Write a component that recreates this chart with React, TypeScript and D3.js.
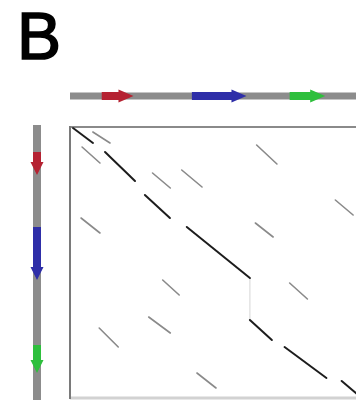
import React from 'react';
import * as d3 from 'd3';

// ---- data (kb along each sequence) ----
const panelLabel = 'B';
const seqXDomain = [0, 23];
const seqYDomain = [0, 27];

const geneColors = ['#b52330', '#2f2fa8', '#2fbf3c'];
const genesX: [number, number][] = [[2.5, 5.0], [9.6, 13.9], [17.3, 20.1]];
const genesY: [number, number][] = [[2.5, 4.8], [10.0, 15.3], [21.8, 24.6]];

// main diagonal matches [x1, y1, x2, y2]
const mainMatches: [number, number, number, number][] = [
  [0.24, 0.1, 1.81, 1.6],
  [2.76, 2.5, 5.12, 5.4],
  [5.9, 6.8, 7.87, 9.1],
  [9.2, 10.0, 14.17, 15.1],
  [14.17, 19.3, 15.9, 21.3],
  [16.9, 22.0, 20.2, 25.1],
  [21.4, 25.4, 22.7, 26.8],
];

// insertion gap in sequence Y
const gapLinks: [number, number, number, number][] = [[14.17, 15.1, 14.17, 19.3]];

// weaker off-diagonal repeat matches [x1, y1, x2, y2]
const repeatMatches: [number, number, number, number][] = [
  [1.8, 0.5, 3.15, 1.6],
  [0.95, 2.0, 2.36, 3.6],
  [6.5, 4.6, 7.9, 6.1],
  [8.8, 4.3, 10.4, 6.0],
  [14.7, 1.8, 16.3, 3.7],
  [20.9, 7.3, 22.3, 8.8],
  [14.6, 9.6, 16.0, 11.0],
  [0.87, 9.1, 2.36, 10.6],
  [7.3, 15.3, 8.6, 16.8],
  [17.3, 15.6, 18.7, 17.2],
  [2.3, 20.1, 3.8, 22.0],
  [6.2, 19.0, 7.9, 20.6],
  [10.0, 24.6, 11.5, 26.1],
];

const W = 356;
const H = 406;

function hArrow(x0: number, x1: number, cy: number, bodyH: number, headH: number, headL: number) {
  const p = d3.path();
  const xh = Math.max(x0, x1 - headL);
  p.moveTo(x0, cy - bodyH / 2);
  p.lineTo(xh, cy - bodyH / 2);
  p.lineTo(xh, cy - headH / 2);
  p.lineTo(x1, cy);
  p.lineTo(xh, cy + headH / 2);
  p.lineTo(xh, cy + bodyH / 2);
  p.lineTo(x0, cy + bodyH / 2);
  p.closePath();
  return p.toString();
}

function vArrow(y0: number, y1: number, cx: number, bodyW: number, headW: number, headL: number) {
  const p = d3.path();
  const yh = Math.max(y0, y1 - headL);
  p.moveTo(cx - bodyW / 2, y0);
  p.lineTo(cx - bodyW / 2, yh);
  p.lineTo(cx - headW / 2, yh);
  p.lineTo(cx, y1);
  p.lineTo(cx + headW / 2, yh);
  p.lineTo(cx + bodyW / 2, yh);
  p.lineTo(cx + bodyW / 2, y0);
  p.closePath();
  return p.toString();
}

export default function App() {
  const x = d3.scaleLinear().domain(seqXDomain).range([70, 362]);
  const y = d3.scaleLinear().domain(seqYDomain).range([127, 397]);

  const topBarY = 96;
  const leftBarX = 37;

  return (
    <svg
      width={W}
      height={H}
      style={{ position: 'absolute', left: 0, top: 0, background: '#fff' }}
    >
      <defs>
        <filter id="soft" x="-20%" y="-20%" width="140%" height="140%">
          <feGaussianBlur stdDeviation="0.7" />
        </filter>
      </defs>
      <text
        x={17}
        y={59}
        fontFamily="'Liberation Sans', Arial, sans-serif"
        fontSize={66}
        fill="#000"
        stroke="#000"
        strokeWidth={1.6}
        filter="url(#soft)"
      >
        {panelLabel}
      </text>

      {/* top sequence bar */}
      <g filter="url(#soft)">
        <rect x={x(0)} y={topBarY - 3.5} width={x(seqXDomain[1]) - x(0)} height={7} fill="#8c8c8c" />
        {genesX.map((g, i) => (
          <path key={i} d={hArrow(x(g[0]), x(g[1]), topBarY, 8, 13, 15)} fill={geneColors[i]} />
        ))}
      </g>

      {/* left sequence bar */}
      <g filter="url(#soft)">
        <rect x={leftBarX - 4} y={y(0) - 2} width={8} height={y(seqYDomain[1]) - y(0) + 5} fill="#8c8c8c" />
        {genesY.map((g, i) => (
          <path key={i} d={vArrow(y(g[0]), y(g[1]), leftBarX, 8, 13, 13)} fill={geneColors[i]} />
        ))}
      </g>

      {/* frame */}
      <line x1={x(0)} x2={W} y1={127} y2={127} stroke="#8a8a8a" strokeWidth={2} />
      <line x1={x(0)} x2={W} y1={398} y2={398} stroke="#d2d2d2" strokeWidth={3} />
      <line x1={x(0)} x2={x(0)} y1={126} y2={399} stroke="#7a7a7a" strokeWidth={2} />

      {/* matches */}
      <g filter="url(#soft)" strokeLinecap="round">
        {gapLinks.map((s, i) => (
          <line key={'g' + i} x1={x(s[0])} y1={y(s[1])} x2={x(s[2])} y2={y(s[3])} stroke="#dcdcdc" strokeWidth={1.2} />
        ))}
        {repeatMatches.map((s, i) => (
          <line key={'r' + i} x1={x(s[0])} y1={y(s[1])} x2={x(s[2])} y2={y(s[3])} stroke="#8a8a8a" strokeWidth={1.6} />
        ))}
        {mainMatches.map((s, i) => (
          <line key={'m' + i} x1={x(s[0])} y1={y(s[1])} x2={x(s[2])} y2={y(s[3])} stroke="#1e1e1e" strokeWidth={2} />
        ))}
      </g>
    </svg>
  );
}
